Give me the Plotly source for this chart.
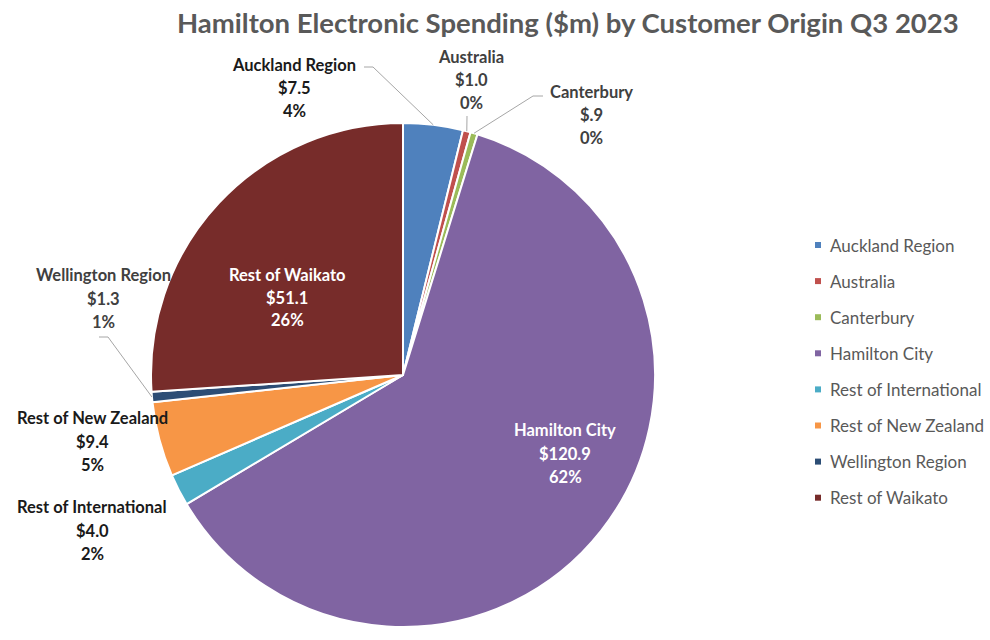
import plotly.graph_objects as go
import math

# ---------------- data ----------------
categories = ["Auckland Region", "Australia", "Canterbury", "Hamilton City",
              "Rest of International", "Rest of New Zealand", "Wellington Region",
              "Rest of Waikato"]
values = [7.5, 0.97, 0.9, 120.9, 4.0, 9.4, 1.3, 51.1]
colors = ["#4F81BD", "#C0504D", "#9BBB59", "#8064A2",
          "#4BACC6", "#F79646", "#2C4D75", "#772C2A"]
title_text = "Hamilton Electronic Spending ($m) by Customer Origin Q3 2023"

# ---------------- layout helpers ----------------
W, H = 990, 640
CX, CY, R = 403, 375, 252
FONT = "Lato, 'Open Sans', sans-serif"


def px(x):
    return x / W


def py(y):
    return 1 - y / H


total = sum(values)


def fmt_val(v):
    s = f"{v:.1f}"
    if s.startswith("0."):
        s = s[1:]
    return "$" + s


def fmt_pct(v):
    return f"{round(v / total * 100):.0f}%"


# mid-angle edge point of each slice (clockwise from 12 o'clock)
edge = []
cum = 0
for v in values:
    mid = (cum + v / 2) / total * 2 * math.pi
    edge.append((CX + R * math.sin(mid), CY - R * math.cos(mid)))
    cum += v

# label placement: (center x, first line y, line gap, colour)
label_pos = {
    "Auckland Region": (294, 65, 23, "#1a1a1a"),
    "Australia": (471, 57, 23, "#404040"),
    "Canterbury": (591, 92, 23, "#404040"),
    "Hamilton City": (565, 430, 23.5, "#ffffff"),
    "Rest of International": (92, 507, 23.5, "#1a1a1a"),
    "Rest of New Zealand": (92, 418, 23.5, "#1a1a1a"),
    "Wellington Region": (103, 275, 23.5, "#404040"),
    "Rest of Waikato": (287, 275, 22.5, "#ffffff"),
}
# leader line start points (text side) for the small outside labels
leader_start = {
    "Auckland Region": [(364, 67), (373, 67)],
    "Australia": [(467, 116)],
    "Canterbury": [(543, 96), (533, 96)],
    "Wellington Region": [(99, 337), (108, 337)],
}

fig = go.Figure()
fig.add_trace(go.Pie(
    labels=categories, values=values, sort=False,
    direction="clockwise", rotation=0,
    marker=dict(colors=colors, line=dict(color="white", width=2)),
    textinfo="none", showlegend=False,
    domain=dict(x=[px(CX - R), px(CX + R)], y=[py(CY + R), py(CY - R)]),
))

annotations = []
for i, cat in enumerate(categories):
    x, y0, gap, col = label_pos[cat]
    lines = [cat, fmt_val(values[i]), fmt_pct(values[i])]
    for k, t in enumerate(lines):
        annotations.append(dict(
            x=px(x), y=py(y0 + k * gap), xref="paper", yref="paper",
            text=f"<b>{t}</b>", showarrow=False, xanchor="center", yanchor="middle",
            font=dict(family=FONT, size=16.5, color=col)))

shapes = []
for i, cat in enumerate(categories):
    if cat in leader_start:
        pts = leader_start[cat] + [edge[i]]
        path = "M " + " L ".join(f"{px(a)},{py(b)}" for a, b in pts)
        shapes.append(dict(type="path", path=path, xref="paper", yref="paper",
                           line=dict(color="#A6A6A6", width=1)))

# legend (drawn manually to match spacing)
LEG_X, LEG_Y0, LEG_GAP = 818, 245, 36.1
for i, cat in enumerate(categories):
    yy = LEG_Y0 + i * LEG_GAP
    shapes.append(dict(type="rect", xref="paper", yref="paper",
                       x0=px(LEG_X - 3), x1=px(LEG_X + 3), y0=py(yy + 3), y1=py(yy - 3),
                       fillcolor=colors[i], line=dict(width=0)))
    annotations.append(dict(
        x=px(828), y=py(yy), xref="paper", yref="paper", text=cat,
        showarrow=False, xanchor="left", yanchor="middle",
        font=dict(family=FONT, size=17, color="#595959")))

annotations.append(dict(
    x=px(568), y=py(23), xref="paper", yref="paper", text=f"<b>{title_text}</b>",
    showarrow=False, xanchor="center", yanchor="middle",
    font=dict(family=FONT, size=27.5, color="#595959")))

fig.update_layout(
    width=W, height=H, margin=dict(l=0, r=0, t=0, b=0),
    paper_bgcolor="white", plot_bgcolor="white",
    annotations=annotations, shapes=shapes, showlegend=False,
)

fig.write_html("out.html")
